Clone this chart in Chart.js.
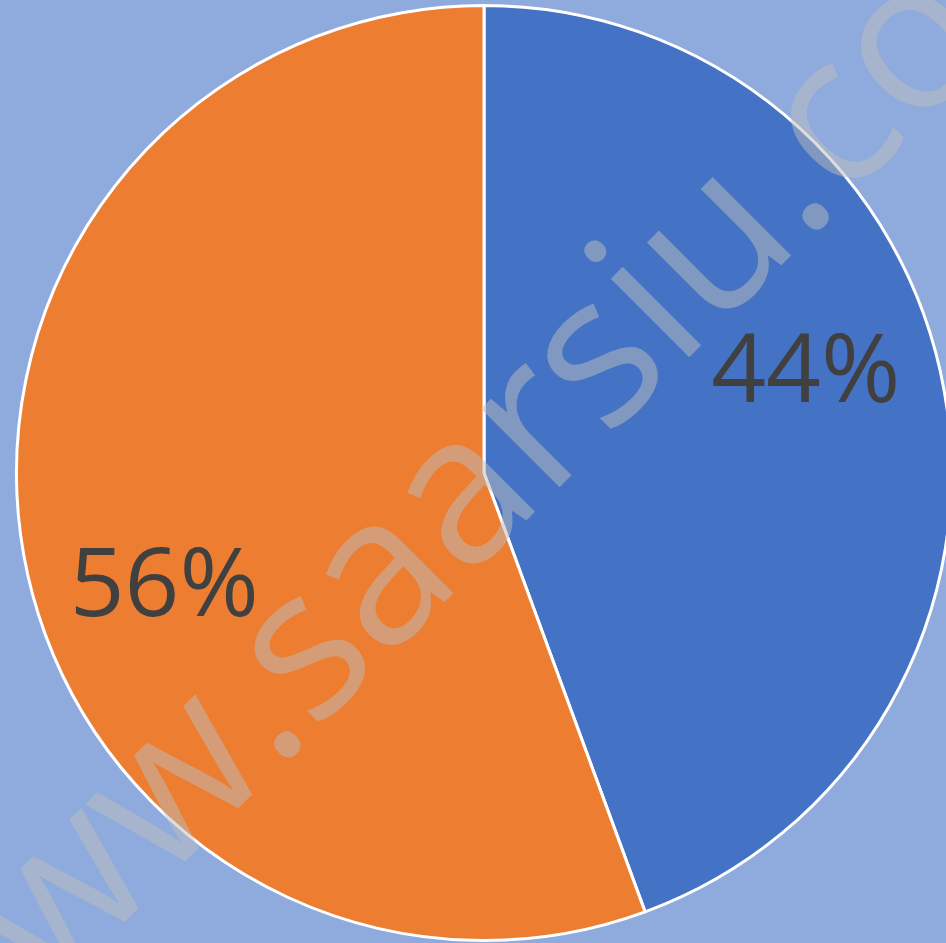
<!DOCTYPE html>
<html>
<head>
<meta charset="utf-8">
<script src="https://cdn.jsdelivr.net/npm/chart.js@4.4.1/dist/chart.umd.min.js"></script>
<style>
  html, body { margin: 0; padding: 0; background: #8FAADC; overflow: hidden; }
  #wrap { width: 946px; height: 943px; position: relative; overflow: hidden; }
</style>
</head>
<body>
<div id="wrap"><canvas id="c" width="960" height="943"></canvas></div>
<script>
const categories = ["A", "B"];
const values = [44.4, 55.6];
const labelTexts = ["44%", "56%"];
const sliceColors = ["#4472C4", "#ED7D31"];
const watermark = "www.saarsiu.co";

const labelPlugin = {
  id: 'pctLabels',
  afterDatasetsDraw(chart) {
    const ctx = chart.ctx;
    const meta = chart.getDatasetMeta(0);
    const size = 96;
    ctx.save();
    ctx.fillStyle = '#404040';
    ctx.font = size + 'px "Open Sans"';
    ctx.textAlign = 'center';
    ctx.textBaseline = 'middle';
    meta.data.forEach((arc, i) => {
      const mid = (arc.startAngle + arc.endAngle) / 2 - 8.3 * Math.PI / 180;
      const r = arc.outerRadius * 0.723;
      const x = arc.x + Math.cos(mid) * r + 1;
      const y = arc.y + Math.sin(mid) * r + size * 0.09;
      ctx.fillText(labelTexts[i], x, y);
    });
    ctx.restore();
  }
};

const watermarkPlugin = {
  id: 'watermark',
  afterDraw(chart) {
    const ctx = chart.ctx;
    ctx.save();
    ctx.font = '200px "Open Sans"';
    const span = ctx.measureText("saarsiu.").width;
    const size = 200 * 747 / span;
    ctx.font = size + 'px "Open Sans"';
    const pre = ctx.measureText("www.").width - ctx.measureText(".").width / 2;
    ctx.translate(286, 743);
    ctx.rotate(-Math.PI / 4);
    ctx.fillStyle = 'rgba(190,190,190,0.5)';
    ctx.textBaseline = 'alphabetic';
    ctx.textAlign = 'left';
    ctx.fillText(watermark, -pre, size * 0.06);
    ctx.restore();
  }
};

new Chart(document.getElementById('c'), {
  type: 'pie',
  data: {
    labels: categories,
    datasets: [{
      data: values,
      backgroundColor: sliceColors,
      borderColor: '#FFFFFF',
      borderWidth: 3,
      hoverOffset: 0,
      offset: 0
    }]
  },
  options: {
    responsive: false,
    animation: false,
    radius: 467.5,
    layout: { padding: { left: 16, top: 5, right: 8, bottom: 2 } },
    plugins: { legend: { display: false }, tooltip: { enabled: false } },
    events: []
  },
  plugins: [labelPlugin, watermarkPlugin]
});
</script>
</body>
</html>
